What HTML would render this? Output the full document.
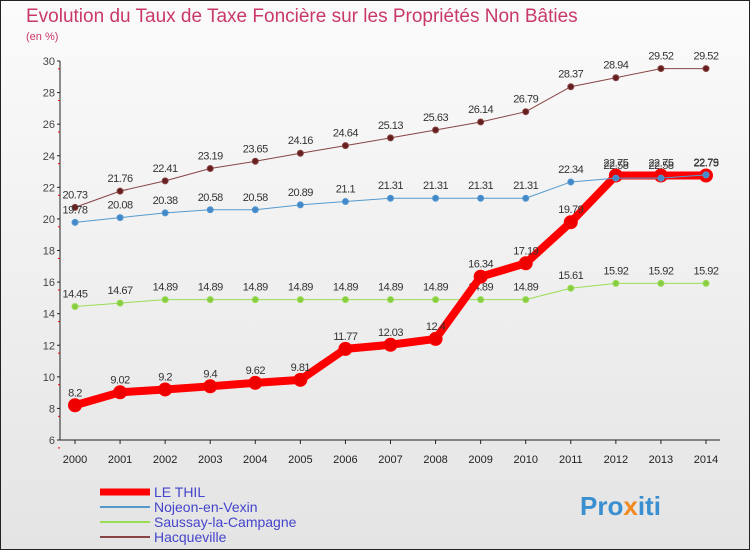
<!DOCTYPE html>
<html><head><meta charset="utf-8"><style>
body{margin:0;width:750px;height:550px;overflow:hidden;font-family:"Liberation Sans",sans-serif}
</style></head><body>
<svg width="750" height="550" xmlns="http://www.w3.org/2000/svg">
<defs><linearGradient id="bg" x1="0" y1="0" x2="0" y2="1"><stop offset="0" stop-color="#fbfbfb"/><stop offset="1" stop-color="#e4e4e4"/></linearGradient></defs>
<rect x="0.5" y="0.5" width="749" height="549" fill="url(#bg)" stroke="#222"/>
<text x="26" y="22" font-size="19" fill="#c8386a">Evolution du Taux de Taxe Foncière sur les Propriétés Non Bâties</text>
<text x="26" y="40" font-size="11" fill="#c8386a">(en %)</text>
<g id="axes"></g>
<g id="series"></g>
<g id="legend"></g>
<text x="580" y="515" font-size="26" font-weight="bold" fill="#3a8fd0">Pro<tspan fill="#f08a20">x</tspan>iti</text>
</svg>
<script>
const years=[2000,2001,2002,2003,2004,2005,2006,2007,2008,2009,2010,2011,2012,2013,2014];
const yTicks=[6,8,10,12,14,16,18,20,22,24,26,28,30];
const leThil=[8.2,9.02,9.2,9.4,9.62,9.81,11.77,12.03,12.4,16.34,17.19,19.79,22.75,22.75,22.75];
const nojeon=[19.78,20.08,20.38,20.58,20.58,20.89,21.1,21.31,21.31,21.31,21.31,22.34,22.58,22.58,22.79];
const saussay=[14.45,14.67,14.89,14.89,14.89,14.89,14.89,14.89,14.89,14.89,14.89,15.61,15.92,15.92,15.92];
const hacq=[20.73,21.76,22.41,23.19,23.65,24.16,24.64,25.13,25.63,26.14,26.79,28.37,28.94,29.52,29.52];
const NS='http://www.w3.org/2000/svg';
const X=i=>75+i*(706-75)/14;
const Y=v=>440-(v-6)*(440-61)/24;
function mk(tag,attrs,parent,txt){const e=document.createElementNS(NS,tag);for(const k in attrs)e.setAttribute(k,attrs[k]);if(txt!==undefined)e.textContent=txt;parent.appendChild(e);return e;}
const ax=document.getElementById('axes');
let a=mk('line',{x1:60,y1:61,x2:60,y2:440,stroke:'#222'},ax);


a=mk('line',{x1:60,y1:440,x2:720,y2:440,stroke:'#222'},ax);


yTicks.forEach(t=>{
 mk('line',{x1:57,y1:Y(t),x2:60,y2:Y(t),stroke:'#222'},ax);
 mk('line',{x1:58,y1:Y(t)+7.9,x2:60,y2:Y(t)+7.9,stroke:'#e00'},ax);
 const l=mk('text',{x:55,y:Y(t)+4,'font-size':11,'text-anchor':'end',fill:'#444'},ax,t);
 
 
});
years.forEach((yr,i)=>{
 mk('line',{x1:X(i),y1:440,x2:X(i),y2:444,stroke:'#222'},ax);
 const l=mk('text',{x:X(i),y:463,'font-size':11,'text-anchor':'middle',fill:'#222'},ax,yr);
 
 
});
const sg=document.getElementById('series');
function series(vals,color,w,r,dot,name,labels){
 const g=mk('g',{},sg);
 
 
 mk('polyline',{points:vals.map((v,i)=>X(i)+','+Y(v)).join(' '),fill:'none',stroke:color,'stroke-width':w,'stroke-linejoin':'round'},g);
 vals.forEach((v,i)=>{
  const c=mk('circle',{cx:X(i),cy:Y(v),r:r,fill:dot,stroke:color,'stroke-width':1},g);
  
  
  if(labels){const t=mk('text',{x:X(i),y:Y(v)-9,'font-size':11,'text-anchor':'middle',fill:'#333','letter-spacing':'-0.5'},g,v);
  
  }
 });
}
series(saussay,'#99dd55',1,3,'#88cc44','saussay-series',true);
series(hacq,'#884444',1,3,'#661f1f','hacqueville-series',true);
series(leThil,'#ff0000',8,6.5,'#ee0000','le-thil-series',true);
series(nojeon,'#5599cc',1,3,'#4488cc','nojeon-series',true);
const lg=document.getElementById('legend');
[['LE THIL','#ff0000',7],['Nojeon-en-Vexin','#5599cc',2],['Saussay-la-Campagne','#99dd55',2],['Hacqueville','#884444',2]].forEach((e,i)=>{
 const y=492+i*15;
 const g=mk('g',{},lg);
 
 
 mk('line',{x1:100,y1:y,x2:150,y2:y,stroke:e[1],'stroke-width':e[2]},g);
 mk('text',{x:154,y:y+5,'font-size':14,fill:'#4444cc'},g,e[0]);
});
</script>
</body></html>
